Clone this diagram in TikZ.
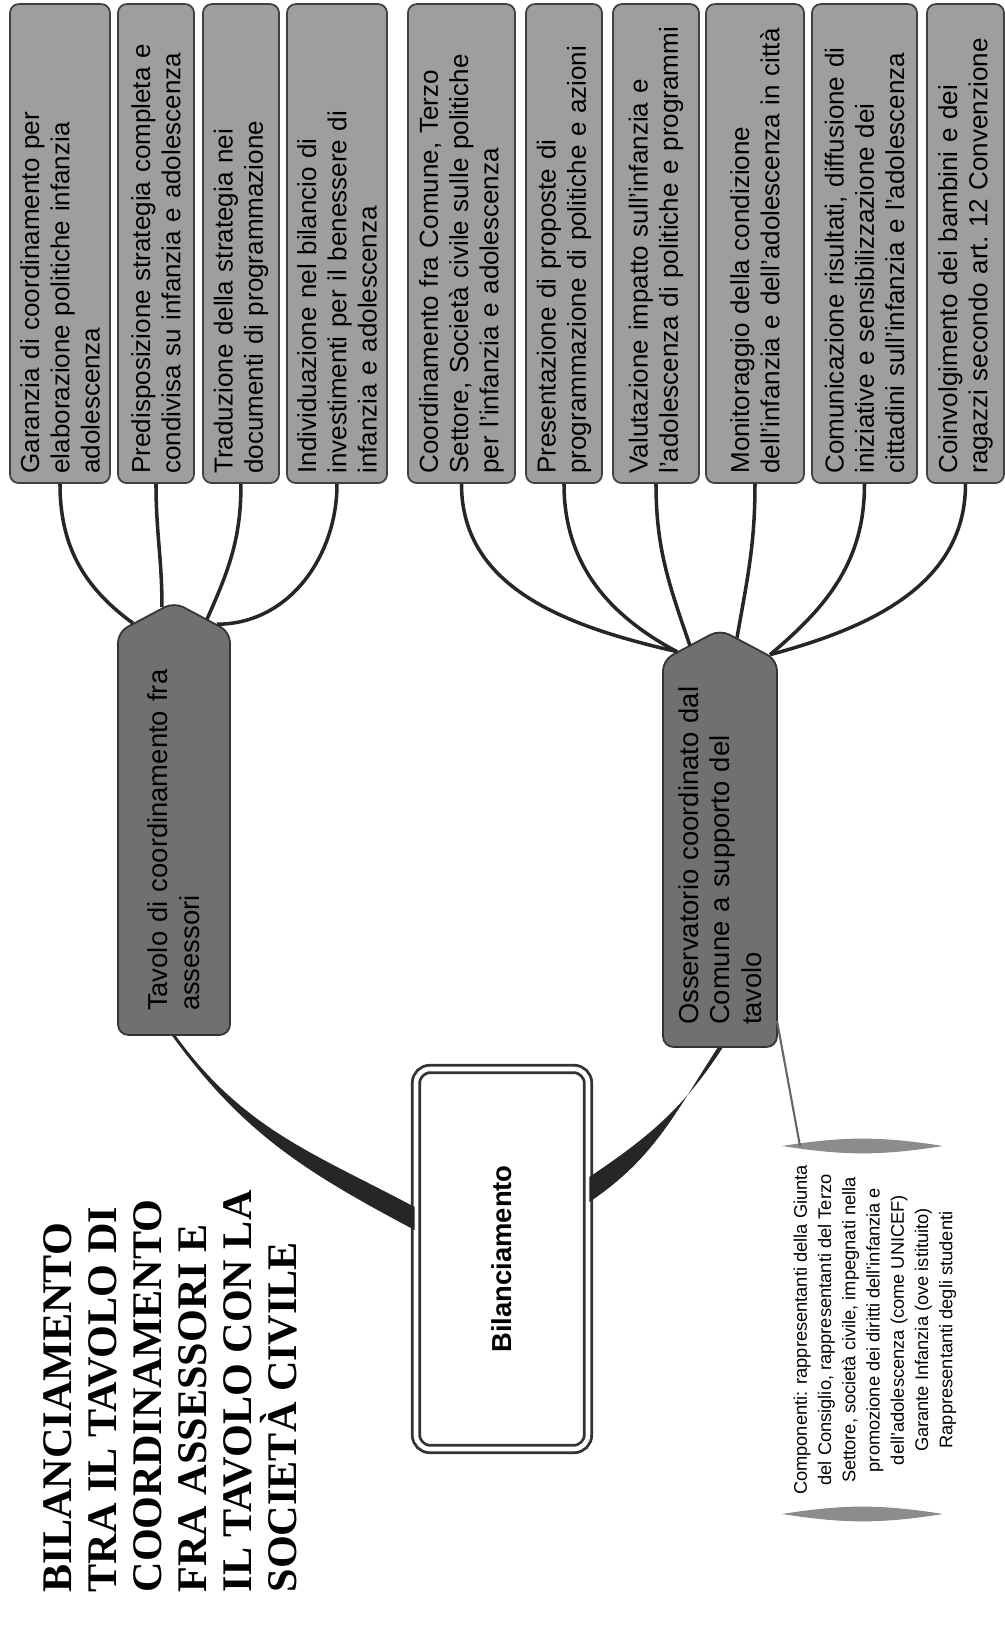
\documentclass[tikz,border=0pt]{standalone}
\usepackage{fontspec}
\setmainfont{Liberation Serif}
\setsansfont{Liberation Sans}
\usetikzlibrary{shapes.symbols,calc}
\definecolor{grigiochiaro}{gray}{0.62}
\definecolor{grigioscuro}{gray}{0.44}
\tikzset{
  foglia/.style={draw=black!75, fill=grigiochiaro, rounded corners=2.5pt, line width=0.5pt,
    text width=4.6cm, align=left, inner xsep=0.095cm, inner ysep=0.06cm, anchor=west,
    font=\sffamily\fontsize{7.4}{8.6}\selectfont},
  ramo/.style={draw=black!80, fill=grigioscuro, signal, signal to=east, signal pointer angle=124,
    rounded corners=3pt, line width=0.5pt, align=left,
    font=\sffamily\fontsize{7.8}{9}\selectfont},
  bilancio/.style={draw=black!80, double=white, double distance=1.3pt, line width=0.8pt,
    rounded corners=4pt, minimum width=3.8cm, minimum height=1.72cm,
    font=\sffamily\bfseries\fontsize{7.8}{9}\selectfont},
  nota/.style={align=center, inner sep=0pt, font=\sffamily\fontsize{5.2}{6.9}\selectfont},
  titolo/.style={anchor=north west, align=left, inner sep=0pt,
    font=\bfseries\fontsize{12}{12.8}\selectfont},
  filo/.style={draw=black!85, line width=1pt},
  tronco/.style={fill=black!85},
  capo/.style={fill=black!45},
  sottile/.style={draw=black!60, line width=0.6pt},
}
\begin{document}
\begin{tikzpicture}[rotate=90, transform shape]
  \useasboundingbox (0,0) rectangle (16.49,10.05);
  % titolo
  \node[titolo] (tit) at (0.56,9.62) {BILANCIAMENTO\\TRA IL TAVOLO DI\\COORDINAMENTO\\FRA ASSESSORI E\\IL TAVOLO CON LA\\SOCIETÀ CIVILE};
  % nodo centrale
  \node[bilancio] (bil) at (3.90,5.03) {Bilanciamento};
  % i due tavoli
  \node[ramo, text width=3.55cm, inner xsep=0.24cm, minimum height=1.12cm] (tav) at (8.155,8.31)
    {Tavolo di coordinamento fra\\assessori};
  \node[ramo, text width=3.43cm, inner xsep=0.22cm, minimum height=1.14cm] (oss) at (7.955,2.85)
    {Osservatorio coordinato dal\\Comune a supporto del\\tavolo};
  % compiti del tavolo
  \node[foglia, minimum height=1.0cm] (g1) at (11.65,9.45) {Garanzia di coordinamento per\\elaborazione politiche infanzia\\adolescenza};
  \node[foglia, minimum height=0.76cm] (g2) at (11.65,8.49) {Predisposizione strategia completa e\\condivisa su infanzia e adolescenza};
  \node[foglia, minimum height=0.76cm] (g3) at (11.65,7.64) {Traduzione della strategia nei\\documenti di programmazione};
  \node[foglia, minimum height=1.0cm] (g4) at (11.65,6.68) {Individuazione nel bilancio di\\investimenti per il benessere di\\infanzia e adolescenza};
  % compiti dell'osservatorio
  \node[foglia, minimum height=1.07cm] (g5) at (11.65,5.435) {Coordinamento fra Comune, Terzo\\Settore, Società civile sulle politiche\\per l'infanzia e adolescenza};
  \node[foglia, minimum height=0.76cm] (g6) at (11.65,4.41) {Presentazione di proposte di\\programmazione di politiche e azioni};
  \node[foglia, minimum height=0.86cm] (g7) at (11.65,3.49) {Valutazione impatto sull'infanzia e\\l'adolescenza di politiche e programmi};
  \node[foglia, minimum height=0.98cm] (g8) at (11.65,2.50) {Monitoraggio della condizione\\dell'infanzia e dell'adolescenza in città};
  \node[foglia, minimum height=1.05cm] (g9) at (11.65,1.405) {Comunicazione risultati, diffusione di\\iniziative e sensibilizzazione dei\\cittadini sull'infanzia e l'adolescenza};
  \node[foglia, minimum height=0.77cm] (g10) at (11.65,0.395) {Coinvolgimento dei bambini e dei\\ragazzi secondo art.~12 Convenzione};
  % nota sui componenti
  \node[nota] (nota) at (3.19,1.30) {Componenti: rappresentanti della Giunta\\del Consiglio, rappresentanti del Terzo\\Settore, società civile, impegnati nella\\promozione dei diritti dell'infanzia e\\dell'adolescenza (come UNICEF)\\Garante Infanzia (ove istituito)\\Rappresentanti degli studenti};
  \coordinate (c1) at ($(nota.center)+(-1.84,0.93)$);
  \coordinate (c2) at ($(nota.center)+(-1.84,-0.68)$);
  \coordinate (c3) at ($(nota.center)+(1.84,0.93)$);
  \coordinate (c4) at ($(nota.center)+(1.84,-0.68)$);
  \fill[capo] (c1) to[bend left=9] (c2) to[bend left=9] (c1) -- cycle;
  \fill[capo] (c3) to[bend left=9] (c4) to[bend left=9] (c3) -- cycle;
  \coordinate (c5) at ($(nota.center)+(1.84,0.75)$);
  \draw[sottile] ($(oss.west)+(0.27,-0.57)$) -- (c5);
  % rami spessi
  \fill[tronco] ($(bil.north)+(0.29,0)$) to[out=62,in=-144] ($(tav.west)+(0,0.018)$)
    -- ($(tav.west)+(0,-0.018)$) to[out=-144,in=62] ($(bil.north)+(0.52,0)$) -- cycle;
  \fill[tronco] ($(bil.south)+(0.57,0)$) to[out=-56,in=147] ($(oss.west)+(0,0.025)$)
    -- ($(oss.west)+(0,-0.025)$) to[out=147,in=-56] ($(bil.south)+(0.82,0)$) -- cycle;
  % fili verso i compiti
  \draw[filo] ($(tav.east)+(-0.22,0.41)$) to[out=54,in=180] (g1.west);
  \draw[filo] ($(tav.east)+(-0.06,0.12)$) to[out=0,in=180] (g2.west);
  \draw[filo] ($(tav.east)+(-0.18,-0.33)$) to[out=-24,in=180] (g3.west);
  \draw[filo] ($(tav.east)+(-0.23,-0.43)$) to[out=-90,in=180] (g4.west);
  \draw[filo] ($(oss.east)+(-0.23,0.43)$) to[out=77,in=180] (g5.west);
  \draw[filo] ($(oss.east)+(-0.23,0.43)$) to[out=62,in=180] (g6.west);
  \draw[filo] ($(oss.east)+(-0.17,0.30)$) to[out=19,in=180] (g7.west);
  \draw[filo] ($(oss.east)+(-0.09,-0.17)$) to[out=-10,in=180] (g8.west);
  \draw[filo] ($(oss.east)+(-0.26,-0.50)$) to[out=-50,in=180] (g9.west);
  \draw[filo] ($(oss.east)+(-0.26,-0.50)$) to[out=-75,in=180] (g10.west);
\end{tikzpicture}
\end{document}
